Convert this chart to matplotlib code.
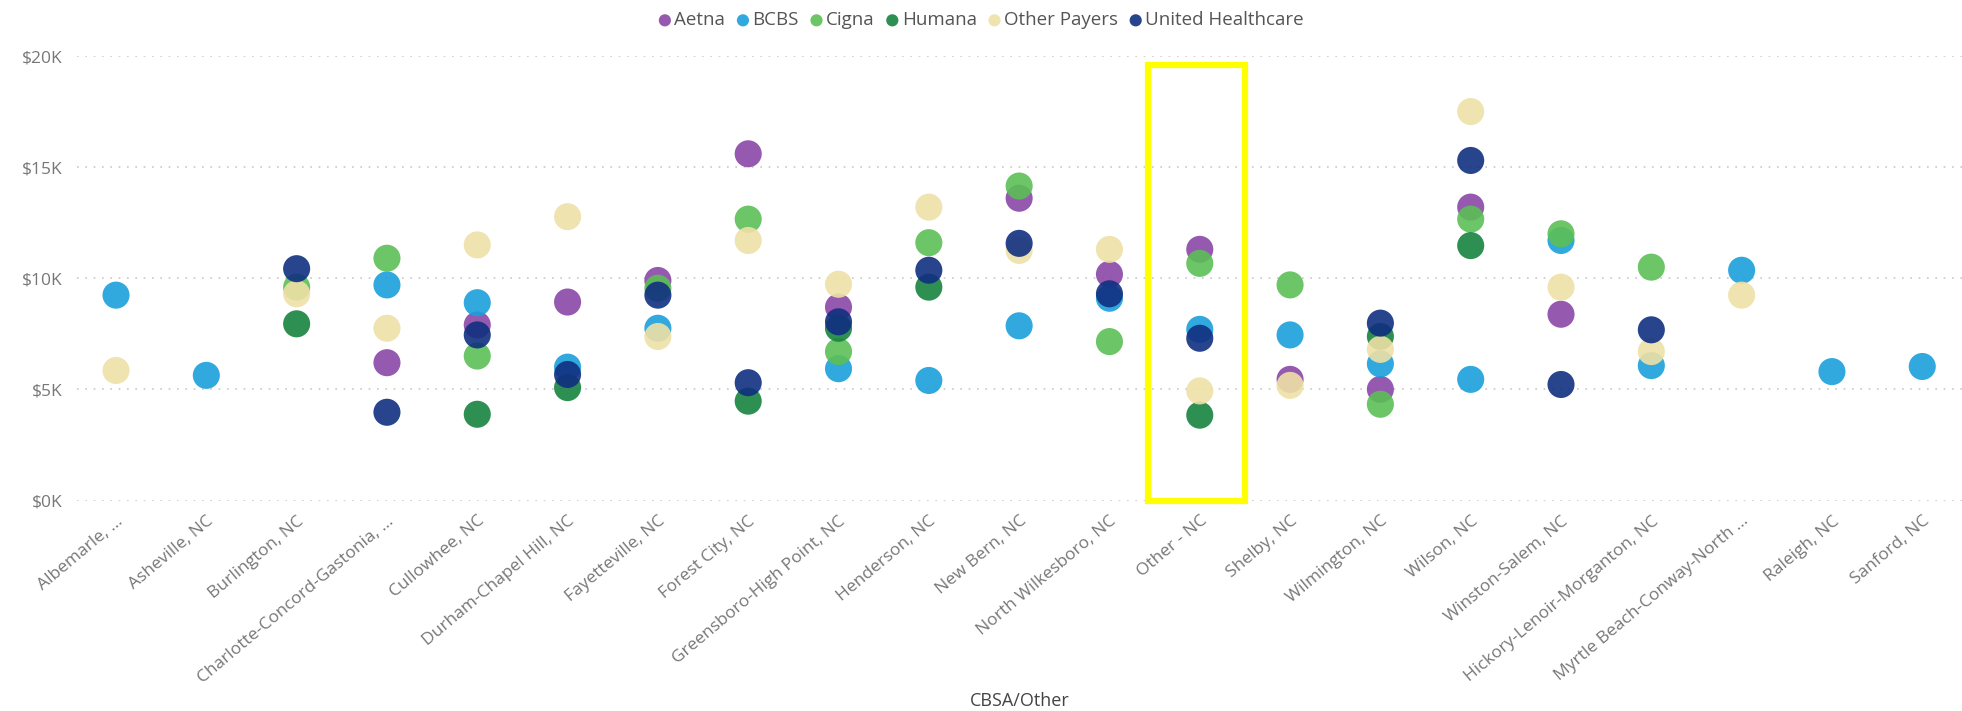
import matplotlib
matplotlib.use("Agg")
import matplotlib.pyplot as plt
from matplotlib.patches import Rectangle
import numpy as np

plt.rcParams['font.family'] = ['Open Sans', 'DejaVu Sans']

nan = np.nan

# categories on the x axis (CBSA)
cbsa = ["Albemarle, ...", "Asheville, NC", "Burlington, NC", "Charlotte-Concord-Gastonia, ...",
        "Cullowhee, NC", "Durham-Chapel Hill, NC", "Fayetteville, NC", "Forest City, NC",
        "Greensboro-High Point, NC", "Henderson, NC", "New Bern, NC", "North Wilkesboro, NC",
        "Other - NC", "Shelby, NC", "Wilmington, NC", "Wilson, NC", "Winston-Salem, NC",
        "Hickory-Lenoir-Morganton, NC", "Myrtle Beach-Conway-North ...", "Raleigh, NC", "Sanford, NC"]

# values in $K, one list per payer
aetna  = [nan, nan, nan, 6.2, 7.9, 8.93, 9.9, 15.6, 8.7, nan, 13.6, 10.18, 11.3, 5.45, 5.0, 13.2, 8.38, nan, nan, nan, nan]
bcbs   = [9.24, 5.63, nan, 9.7, 8.9, 6.0, 7.75, nan, 5.93, 5.4, 7.86, 9.1, 7.7, 7.45, 6.15, 5.45, 11.7, 6.07, 10.36, 5.8, 6.03]
cigna  = [nan, nan, 9.6, 10.9, 6.5, nan, 9.55, 12.66, 6.7, 11.6, 14.15, 7.15, 10.67, 9.7, 4.33, 12.66, 12.0, 10.5, nan, nan, nan]
humana = [nan, nan, 7.95, nan, 3.88, 5.08, nan, 4.47, 7.75, 9.6, nan, nan, 3.84, nan, 7.38, 11.47, nan, nan, nan, nan, nan]
other  = [5.85, nan, 9.3, 7.75, 11.5, 12.77, 7.38, 11.7, 9.73, 13.2, 11.25, 11.3, 4.93, 5.18, 6.8, 17.5, 9.6, 6.7, 9.24, nan, nan]
uhc    = [nan, nan, 10.43, 3.97, 7.45, 5.67, 9.24, 5.3, 8.04, 10.36, 11.57, 9.3, 7.3, nan, 7.98, 15.3, 5.22, 7.68, nan, nan, nan]

payers = ["Aetna", "BCBS", "Cigna", "Humana", "Other Payers", "United Healthcare"]
series = [aetna, bcbs, cigna, humana, other, uhc]
colors = ["#8B47A8", "#1AA0DB", "#5CBF55", "#16843F", "#EEE0A6", "#102F80"]

yticks = [0, 5, 10, 15, 20]
highlight = "Other - NC"

fig = plt.figure(figsize=(19.62, 7.11), dpi=100)
ax = fig.add_axes([77 / 1962, 1 - 500.5 / 711, 1885 / 1962, (500.5 - 56) / 711])

x = np.arange(len(cbsa))
for name, vals, c in zip(payers, series, colors):
    ax.scatter(x, vals, s=380, color=c, alpha=0.9, edgecolors='none', label=name,
               clip_on=False, zorder=3)

ax.set_xlim(-0.432, 20.44)
ax.set_ylim(0, 20)
ax.set_yticks(yticks)
ax.set_yticklabels(["$%dK" % v for v in yticks])
ax.set_xticks(x)
ax.set_xticklabels(cbsa, rotation=40, ha='right', rotation_mode='anchor')
ax.tick_params(axis='both', length=0, labelcolor='#777777')
ax.tick_params(axis='x', labelsize=12.5, pad=9)
ax.tick_params(axis='y', labelsize=12.5, pad=10)
ax.grid(axis='y', color='#C8C8C8', linestyle=(0, (1, 4)), linewidth=1.2)
ax.grid(axis='x', visible=False)
for s in ax.spines.values():
    s.set_visible(False)
ax.set_xlabel("CBSA/Other", fontsize=13, color='#444444')
ax.xaxis.set_label_coords(0.5, -0.43)

# yellow highlight box
i = cbsa.index(highlight)
ax.add_patch(Rectangle((i - 0.57, 0.0), 1.07, 19.6, fill=False, edgecolor='#FFFF00',
                       linewidth=4.5, clip_on=False, zorder=4))

fig.legend(loc='upper center', bbox_to_anchor=(0.5, 1.0), ncol=6, frameon=False,
           fontsize=13.5, labelcolor='#555555', handlelength=0.7, handletextpad=0.15,
           columnspacing=0.6, markerscale=0.45, borderaxespad=0.2)

fig.savefig("out.png", dpi=100)
